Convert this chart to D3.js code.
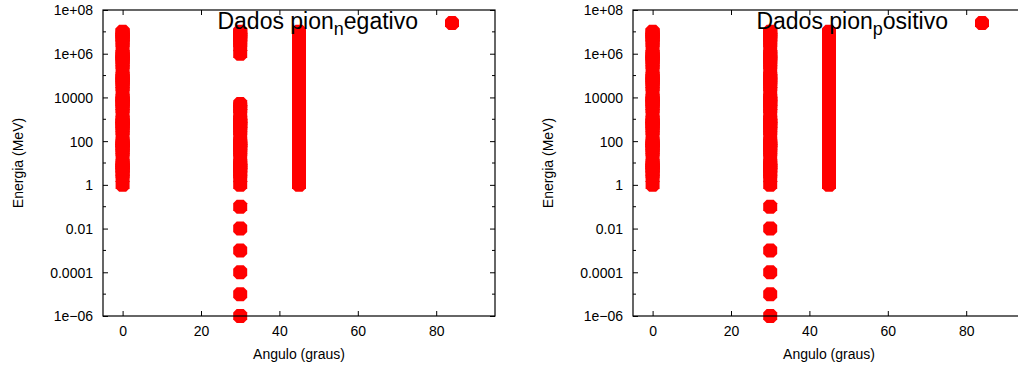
<!DOCTYPE html>
<html>
<head>
<meta charset="utf-8">
<script src="https://cdn.jsdelivr.net/npm/d3@7"></script>
<style>
  body { margin: 0; background: #fff; }
  text { font-family: "Liberation Sans", Arial, sans-serif; fill: #000; }
</style>
</head>
<body>
<svg id="chart" width="1018" height="370"></svg>
<script>

// angles (graus) of each column
const angles = [0, 30, 45]

// y ticks (log), labelled every two decades
const yTickValues = [1e-6, 1e-4, 1e-2, 1, 1e2, 1e4, 1e6, 1e8]
const yTickLabels = ['1e\u221206', '0.0001', '0.01', '1', '100', '10000', '1e+06', '1e+08']
const yMinorTicks = [1e-5, 1e-3, 1e-1, 10, 1e3, 1e5, 1e7]
const xTickValues = [0, 20, 40, 60, 80]

// pion negativo
const negEnergy0 = [1,2,3,4,5,6,7,8,9, 10,20,30,40,50,60,70,80,90, 100,200,300,400,500,600,700,800,900,
  1e3,2e3,3e3,4e3,5e3,6e3,7e3,8e3,9e3, 1e4,2e4,3e4,4e4,5e4,6e4,7e4,8e4,9e4,
  1e5,2e5,3e5,4e5,5e5,6e5,7e5,8e5,9e5, 1e6,2e6,3e6,4e6,5e6,6e6,7e6,8e6,9e6, 1e7]
const negEnergy30 = [1e-6,1e-5,1e-4,1e-3,1e-2,0.1,
  1,2,3,4,5,6,7,8,9, 10,20,30,40,50,60,70,80,90, 100,200,300,400,500,600,700,800,900,
  1e3,2e3,3e3,4e3,5e3,
  1e6,2e6,3e6,4e6,5e6,6e6,7e6,8e6,9e6, 1e7]
const negEnergy45 = [1,2,3,4,5,6,7,8,9, 10,20,30,40,50,60,70,80,90, 100,200,300,400,500,600,700,800,900,
  1e3,2e3,3e3,4e3,5e3,6e3,7e3,8e3,9e3, 1e4,2e4,3e4,4e4,5e4,6e4,7e4,8e4,9e4,
  1e5,2e5,3e5,4e5,5e5,6e5,7e5,8e5,9e5, 1e6,2e6,3e6,4e6,5e6,6e6,7e6,8e6,9e6, 1e7]

// pion positivo
const posEnergy0 = [1,2,3,4,5,6,7,8,9, 10,20,30,40,50,60,70,80,90, 100,200,300,400,500,600,700,800,900,
  1e3,2e3,3e3,4e3,5e3,6e3,7e3,8e3,9e3, 1e4,2e4,3e4,4e4,5e4,6e4,7e4,8e4,9e4,
  1e5,2e5,3e5,4e5,5e5,6e5,7e5,8e5,9e5, 1e6,2e6,3e6,4e6,5e6,6e6,7e6,8e6,9e6, 1e7]
const posEnergy30 = [1e-6,1e-5,1e-4,1e-3,1e-2,0.1,
  1,2,3,4,5,6,7,8,9, 10,20,30,40,50,60,70,80,90, 100,200,300,400,500,600,700,800,900,
  1e3,2e3,3e3,4e3,5e3,6e3,7e3,8e3,9e3, 1e4,2e4,3e4,4e4,5e4,6e4,7e4,8e4,9e4,
  1e5,2e5,3e5,4e5,5e5,6e5,7e5,8e5,9e5, 1e6,2e6,3e6,4e6,5e6,6e6,7e6,8e6,9e6, 1e7]
const posEnergy45 = [1,2,3,4,5,6,7,8,9, 10,20,30,40,50,60,70,80,90, 100,200,300,400,500,600,700,800,900,
  1e3,2e3,3e3,4e3,5e3,6e3,7e3,8e3,9e3, 1e4,2e4,3e4,4e4,5e4,6e4,7e4,8e4,9e4,
  1e5,2e5,3e5,4e5,5e5,6e5,7e5,8e5,9e5, 1e6,2e6,3e6,4e6,5e6,6e6,7e6,8e6,9e6, 1e7]


// gnuplot-like filled dot: square with clipped corners
const blob = {
    draw(ctx, size){
        let r = 7, c = 3.5
        ctx.moveTo(-r + c, -r)
        ctx.lineTo(r - c, -r)
        ctx.lineTo(r, -r + c)
        ctx.lineTo(r, r - c)
        ctx.lineTo(r - c, r)
        ctx.lineTo(-r + c, r)
        ctx.lineTo(-r, r - c)
        ctx.lineTo(-r, -r + c)
        ctx.closePath()
    }
}
const blobPath = d3.symbol().type(blob)()


class Panel{
    constructor(svg, left, columns, title, sub, rest){
        this.svg = svg
        this.left = left
        this.top = 10
        this.width = 392
        this.height = 306
        this.title = title
        this.sub = sub
        this.rest = rest
        this.points = []
        columns.forEach((energies, i) => {
            energies.forEach(e => this.points.push({angle: angles[i], energy: e}))
        })
    }

    draw(){
        let g = this.svg.append('g')
            .attr('transform', 'translate(' + this.left + ',' + this.top + ')')

        let w = this.width, h = this.height
        let xScale = d3.scaleLinear().domain([-5, 95]).range([0, w])
        let yScale = d3.scaleLog().domain([1e-6, 1e8]).range([h, 0])

        // points first, frame on top of them
        g.selectAll('path.pt')
            .data(this.points)
            .join('path')
            .classed('pt', true)
            .attr('d', blobPath)
            .attr('transform', d => 'translate(' + xScale(d.angle) + ',' + yScale(d.energy) + ')')
            .attr('fill', '#ff0000')

        // y axis left / right (inward ticks, mirrored)
        let yLeft = g.append('g').call(d3.axisRight(yScale)
            .tickValues(yTickValues).tickSize(5).tickFormat((d, i) => yTickLabels[i]))
        yLeft.selectAll('text').attr('x', -10).style('text-anchor', 'end')
            .style('font-size', '14px').attr('dy', '0.35em')
        yLeft.select('.domain').remove()

        g.append('g').attr('transform', 'translate(' + w + ',0)')
            .call(d3.axisLeft(yScale).tickValues(yTickValues).tickSize(5).tickFormat(''))
            .select('.domain').remove()

        // minor y ticks
        ;[[0, 3], [w, -3]].forEach(([x0, len]) => {
            g.selectAll(null).data(yMinorTicks).join('line')
                .attr('x1', x0).attr('x2', x0 + len)
                .attr('y1', d => yScale(d)).attr('y2', d => yScale(d))
                .attr('stroke', '#000')
        })

        // x axis bottom / top
        let xBottom = g.append('g').attr('transform', 'translate(0,' + h + ')')
            .call(d3.axisTop(xScale).tickValues(xTickValues).tickSize(5))
        xBottom.selectAll('text').attr('y', 20).attr('dy', 0).style('font-size', '14px')
        xBottom.select('.domain').remove()

        g.append('g')
            .call(d3.axisBottom(xScale).tickValues(xTickValues).tickSize(5).tickFormat(''))
            .select('.domain').remove()

        g.selectAll('.tick line').attr('stroke', '#000')

        g.append('rect')
            .attr('width', w).attr('height', h)
            .attr('fill', 'none').attr('stroke', '#000').attr('stroke-width', 1.2)

        // labels
        g.append('text')
            .text('Angulo (graus)')
            .style('font-size', '14px')
            .style('text-anchor', 'middle')
            .attr('x', w/2).attr('y', h + 43)

        g.append('text')
            .text('Energia (MeV)')
            .style('font-size', '14px')
            .style('text-anchor', 'middle')
            .attr('transform', 'translate(' + -80 + ',' + (h/2) + '), rotate(270)')

        // key
        let key = g.append('text')
            .style('text-anchor', 'end')
            .style('font-size', '23px')
            .attr('x', w - 77).attr('y', 19)
        key.append('tspan').text(this.title)
        key.append('tspan').text(this.sub).attr('dy', 6).style('font-size', '18px')
        key.append('tspan').text(this.rest).attr('dy', -6)

        g.append('path')
            .attr('d', blobPath)
            .attr('transform', 'translate(' + (w - 43) + ',13)')
            .attr('fill', '#ff0000')
    }
}

let svg = d3.select('#chart')
new Panel(svg, 103, [negEnergy0, negEnergy30, negEnergy45], 'Dados pion', 'n', 'egativo').draw()
new Panel(svg, 633, [posEnergy0, posEnergy30, posEnergy45], 'Dados pion', 'p', 'ositivo').draw()

</script>
</body>
</html>
